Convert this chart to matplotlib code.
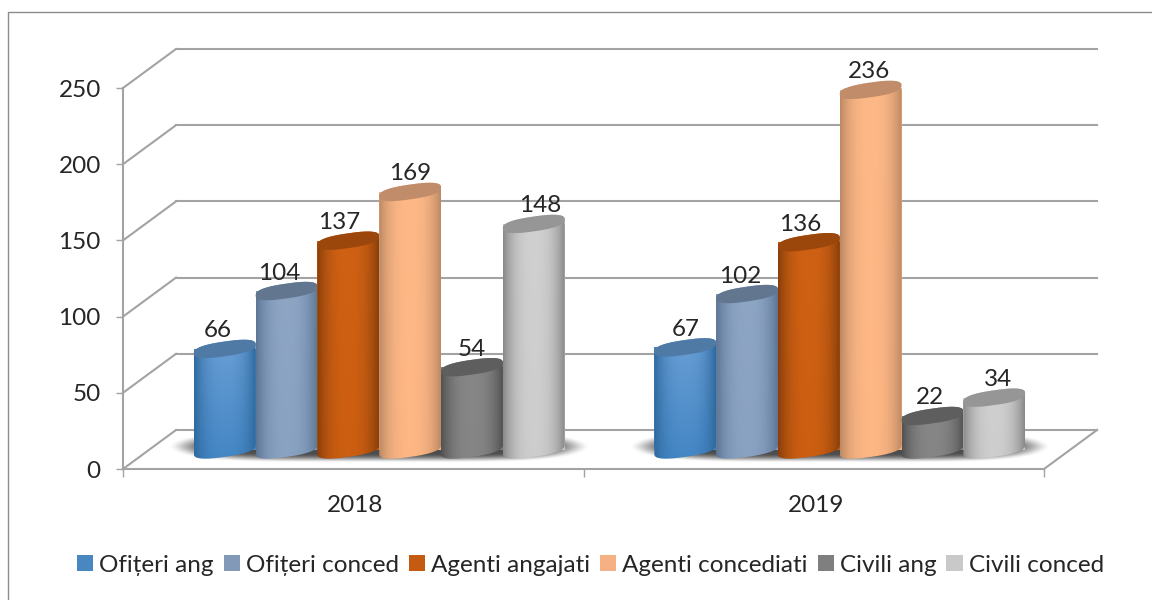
import numpy as np
import matplotlib
matplotlib.use("Agg")
import matplotlib.pyplot as plt
from matplotlib.lines import Line2D
from matplotlib.patches import Polygon, Patch
from matplotlib.path import Path
from matplotlib.transforms import Affine2D, IdentityTransform

plt.rcParams['font.family'] = ['Lato', 'DejaVu Sans']

# ---- data ----
years = ['2018', '2019']
series_names = ['Ofițeri ang', 'Ofițeri conced', 'Agenti angajati',
                'Agenti concediati', 'Civili ang', 'Civili conced']
ofiteri_ang = [66, 67]
ofiteri_conced = [104, 102]
agenti_angajati = [137, 136]
agenti_concediati = [169, 236]
civili_ang = [54, 22]
civili_conced = [148, 34]
yticks = [0, 50, 100, 150, 200, 250]

# ---- style ----
series = [ofiteri_ang, ofiteri_conced, agenti_angajati,
          agenti_concediati, civili_ang, civili_conced]
#          centre-top, centre-bottom, edge, cap
shades = [('#6a9fd6', '#4386c4', '#2f6a9f', '#4f7aa6'),
          ('#8ea5c4', '#8aa2c2', '#5c7696', '#62778f'),
          ('#cf6114', '#cb5e11', '#8a3f0b', '#9b470c'),
          ('#feb887', '#fdb684', '#bd8a64', '#c08c6a'),
          ('#868686', '#858585', '#525252', '#5e5e5e'),
          ('#d0d0d0', '#cdcdcd', '#8a8a8a', '#969696')]
legend_colors = ['#4a86c0', '#8299b8', '#c55a11', '#f4b183', '#7f7f7f', '#c9c9c9']
label_shift = [[-7, 0], [-7, -7], [-9, -9], [0, -2], [0, -2], [6, 4]]
LINE = '#a3a3a3'
TEXT = '#262626'
W, H = 1152, 600
DEPTH_X, DEPTH_Y = 53, 39
BAR_W = 0.1342
RX, RB, RK = 30.9, 7.4, 4.4

fig = plt.figure(figsize=(W / 100, H / 100), dpi=100, facecolor='white')
ax = fig.add_axes([123 / W, (H - 469) / H, 921 / W, 381 / H])
ax.set_xlim(0, 2)
ax.set_ylim(0, 250)
ax.patch.set_alpha(0)

# outer frame: top and left edges run off the picture
fig.add_artist(Line2D([7.5 / W, 7.5 / W, 1], [0, 1 - 11.5 / H, 1 - 11.5 / H],
                      transform=fig.transFigure, color='#8c8c8c', lw=1.0))

ident = IdentityTransform()
back = ax.transData + Affine2D().translate(DEPTH_X, DEPTH_Y)
mid = ax.transData + Affine2D().translate(DEPTH_X / 2 - 0.5, DEPTH_Y / 2)


def lerp(c1, c2, t):
    a = np.array(matplotlib.colors.to_rgb(c1))
    b = np.array(matplotlib.colors.to_rgb(c2))
    return a + (b - a) * t


def rim(centre, t):
    """Rounded, tilted rim of a cylinder around a display-space centre."""
    c = np.sign(np.cos(t)) * np.abs(np.cos(t)) ** 0.78
    n = np.sign(np.sin(t)) * np.abs(np.sin(t)) ** 0.78
    return np.c_[centre[0] + RX * c, centre[1] + RK * c + RB * n]


# back lines and side lines
for v in yticks:
    ax.plot([0, 2], [v, v], color=LINE, lw=1.5, transform=back, clip_on=False, zorder=1,
            solid_capstyle='projecting')
    p = ax.transData.transform((0, v))
    ax.plot([p[0], p[0] + DEPTH_X], [p[1], p[1] + DEPTH_Y], color=LINE, lw=1.5,
            transform=ident, clip_on=False, zorder=1)
# right edge of floor
p = ax.transData.transform((2, 0))
ax.plot([p[0], p[0] + DEPTH_X], [p[1], p[1] + DEPTH_Y], color=LINE, lw=1.5,
        transform=ident, clip_on=False, zorder=1)

# floor shadows
nx, ny = 240, 60
xs = np.linspace(-1, 1, nx)
ys = np.linspace(-1, 1, ny)
gx, gy = np.meshgrid(xs, ys)
reach = np.abs(gx) ** 5 + np.abs(gy) ** 1.8
alpha = np.clip((1 - reach) / 0.8, 0, 1)
alpha = alpha * alpha * (3 - 2 * alpha)
shadow = np.zeros((ny, nx, 4))
shadow[..., :3] = 0.22
shadow[..., 3] = alpha * 0.9
for i in range(2):
    ax.imshow(shadow, extent=(i + 0.5 - 0.46, i + 0.5 + 0.46, -9, 12), transform=mid,
              aspect='auto', interpolation='bilinear', clip_on=False, zorder=2)

# cylinders
px_y = 381 / 250
for s, (vals, sh) in enumerate(zip(series, shades)):
    xpos = [i + 0.5 + (s - 2.5) * BAR_W for i in range(2)]
    bars = ax.bar(xpos, vals, BAR_W, color=legend_colors[s], transform=mid,
                  clip_on=False, zorder=3 + s, lw=0)
    for i, (x, v, bar) in enumerate(zip(xpos, vals, bars)):
        top = mid.transform((x, v))
        base = mid.transform((x, 0))
        t1 = np.linspace(np.pi, 0, 80)
        t2 = np.linspace(0, -np.pi, 80)
        outline = np.vstack([rim(top, t1), rim(base, t2)])
        clip = Path(np.vstack([outline, outline[0]]), closed=True)
        bar.set_clip_path(clip, ident)

        # horizontal + vertical shading
        u = np.abs(np.linspace(-1, 1, 64))[None, :, None]
        w = np.linspace(0, 1, 32)[:, None, None]
        centre = lerp(sh[0], sh[1], w)
        edge = np.array(matplotlib.colors.to_rgb(sh[2]))[None, None, :]
        img = centre + (edge - centre) * (u ** 2.6)
        pad = 12 / px_y
        gi = ax.imshow(img, extent=(x - BAR_W * 0.5, x + BAR_W * 0.5, -pad, v + pad),
                       transform=mid, aspect='auto', interpolation='bilinear',
                       clip_on=True, zorder=3 + s)
        gi.set_clip_path(clip, ident)

        cap = rim(top, np.linspace(0, 2 * np.pi, 160))
        ax.add_patch(Polygon(cap, closed=True, fc=sh[3], ec='none', transform=ident,
                             clip_on=False, zorder=3 + s))
        ax.text(top[0] + label_shift[s][i], top[1] + 18, str(v), transform=ident,
                ha='center', va='center', fontsize=17.5, color=TEXT, zorder=20)

ax.set_xlim(0, 2)
ax.set_ylim(0, 250)

# axes
for side in ('top', 'right'):
    ax.spines[side].set_visible(False)
for side in ('left', 'bottom'):
    ax.spines[side].set_color(LINE)
    ax.spines[side].set_linewidth(1.5)
    ax.spines[side].set_zorder(2)
ax.set_yticks(yticks)
ax.set_yticklabels([str(v) for v in yticks])
ax.set_xticks([0, 1, 2])
ax.set_xticklabels([])
ax.set_xticks([0.5, 1.5], minor=True)
ax.set_xticklabels(years, minor=True)
ax.tick_params(axis='y', length=5, width=1, color=LINE, labelsize=17.5, labelcolor=TEXT, pad=11)
ax.tick_params(axis='x', which='major', length=6, width=1, color=LINE)
ax.tick_params(axis='x', which='minor', length=0, labelsize=17.5, labelcolor=TEXT, pad=18.5)
for lab in ax.get_xticklabels(minor=True):
    lab.set_transform(lab.get_transform() + Affine2D().translate(2, 0))

# legend
handles = [Patch(fc=c, ec='none') for c in legend_colors]
fig.legend(handles, series_names, ncol=6, loc='center', bbox_to_anchor=(590.5 / W, 1 - 565 / H),
           frameon=False, fontsize=17.5, handlelength=0.66, handleheight=0.66,
           handletextpad=0.25, columnspacing=0.41, labelcolor=TEXT)

fig.savefig('out.png', dpi=100, facecolor='white')
